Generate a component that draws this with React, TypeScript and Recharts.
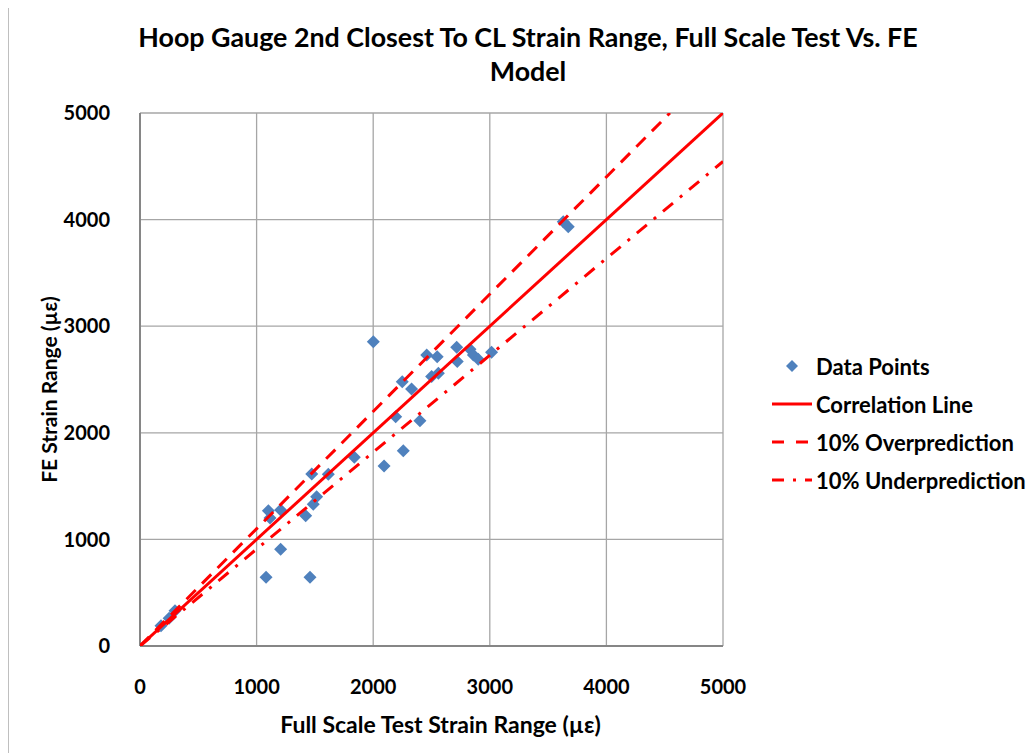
import {
  CartesianGrid,
  Scatter,
  ScatterChart,
  XAxis,
  YAxis,
} from "recharts";

const testStrain = [
  180, 250, 300, 1081, 1101, 1115, 1206, 1206, 1421, 1458, 1473, 1486, 1515,
  1615, 1838, 2001, 2093, 2193, 2249, 2258, 2329, 2401, 2459, 2501, 2549, 2559,
  2716, 2721, 2830, 2859, 2901, 3015, 3630, 3673,
];
const feStrain = [
  190, 260, 330, 645, 1269, 1200, 907, 1276, 1223, 645, 1614, 1330, 1401,
  1611, 1770, 2855, 1689, 2151, 2480, 1832, 2411, 2114, 2730, 2527, 2714, 2559,
  2802, 2668, 2783, 2730, 2689, 2755, 3980, 3933,
];

const correlationX = [0, 5000];
const correlationY = [0, 5000];
const overX = [0, 4545];
const overY = [0, 5000];
const underX = [0, 5000];
const underY = [0, 4545];

const ticks = [0, 1000, 2000, 3000, 4000, 5000];

const points = testStrain.map((x, i) => ({ x, y: feStrain[i] }));
const toPairs = (xs: number[], ys: number[]) =>
  xs.map((x, i) => ({ x, y: ys[i] }));

const FONT = "Lato, 'Open Sans', sans-serif";
const RED = "#ff0000";
const BLUE = "#4f81bd";

const Diamond = (props: any) => {
  const { cx, cy } = props;
  const r = 6.5;
  return (
    <polygon
      points={`${cx},${cy - r} ${cx + r},${cy} ${cx},${cy + r} ${cx - r},${cy}`}
      fill={BLUE}
    />
  );
};

const legendItems = [
  { label: "Data Points", kind: "marker" },
  { label: "Correlation Line", kind: "solid" },
  { label: "10% Overprediction", kind: "dash" },
  { label: "10% Underprediction", kind: "dashdot" },
];

const LegendBox = () => (
  <div
    style={{
      position: "absolute",
      left: 762,
      top: 339,
      fontFamily: FONT,
      fontWeight: 700,
      fontSize: 22,
      color: "#000",
      whiteSpace: "nowrap",
    }}
  >
    {legendItems.map((it) => (
      <div
        key={it.label}
        style={{ display: "flex", alignItems: "center", height: 38 }}
      >
        <svg width={44} height={20}>
          {it.kind === "marker" && (
            <polygon points="22,4 28,10 22,16 16,10" fill={BLUE} />
          )}
          {it.kind === "solid" && (
            <line x1={2} y1={10} x2={42} y2={10} stroke={RED} strokeWidth={3} />
          )}
          {it.kind === "dash" && (
            <line
              x1={2}
              y1={10}
              x2={42}
              y2={10}
              stroke={RED}
              strokeWidth={3}
              strokeDasharray="12 12"
            />
          )}
          {it.kind === "dashdot" && (
            <line
              x1={2}
              y1={10}
              x2={42}
              y2={10}
              stroke={RED}
              strokeWidth={3}
              strokeDasharray="12 9 3 9"
            />
          )}
        </svg>
        <span style={{ marginLeft: 2 }}>{it.label}</span>
      </div>
    ))}
  </div>
);

export default function App() {
  return (
    <div
      style={{
        position: "relative",
        width: 1026,
        height: 745,
        background: "#fff",
        fontFamily: FONT,
      }}
    >
      <div
        style={{
          position: "absolute",
          left: 0,
          top: -7,
          width: 1026,
          height: 752,
          borderLeft: "1px solid #bfbfbf",
          borderTop: "1px solid #bfbfbf",
          boxSizing: "border-box",
        }}
      />
      <div
        style={{
          position: "absolute",
          left: 0,
          top: 12,
          width: 1040,
          textAlign: "center",
          fontWeight: 700,
          fontSize: 26.8,
          lineHeight: "34px",
          color: "#000",
          whiteSpace: "nowrap",
        }}
      >
        Hoop Gauge 2nd Closest To CL Strain Range, Full Scale Test Vs. FE
        <br />
        Model
      </div>
      <ScatterChart
        width={1026}
        height={745}
        margin={{ top: 105, right: 311, bottom: 67, left: 52 }}
        style={{ position: "absolute", left: 0, top: 0 }}
      >
        <CartesianGrid stroke="#a6a6a6" strokeWidth={1.3} />
        <XAxis
          type="number"
          dataKey="x"
          domain={[0, 5000]}
          ticks={ticks}
          allowDataOverflow
          stroke="#868686"
          strokeWidth={2}
          tickLine={false}
          height={40}
          tick={{ fill: "#000", fontSize: 20, fontWeight: 700, fontFamily: FONT }}
          tickMargin={28}
          label={{
            value: "Full Scale Test Strain Range (\u00b5\u03b5)",
            position: "insideBottom",
            offset: -47,
            dx: 9,
            style: { fill: "#000", fontSize: 23, fontWeight: 700, fontFamily: FONT },
          }}
        />
        <YAxis
          type="number"
          dataKey="y"
          domain={[0, 5000]}
          ticks={ticks}
          allowDataOverflow
          stroke="#868686"
          strokeWidth={2}
          tickLine={false}
          width={80}
          tick={{ fill: "#000", fontSize: 20, fontWeight: 700, fontFamily: FONT }}
          tickMargin={24}
          label={{
            value: "FE Strain Range (\u00b5\u03b5)",
            angle: -90,
            position: "insideLeft",
            offset: -10,
            dy: 10,
            style: {
              fill: "#000",
              fontSize: 21,
              fontWeight: 700,
              fontFamily: FONT,
              textAnchor: "middle",
            },
          }}
        />
        <Scatter
          name="Data Points"
          data={points}
          shape={<Diamond />}
          isAnimationActive={false}
        />
        <Scatter
          name="Correlation Line"
          data={toPairs(correlationX, correlationY)}
          line={{ stroke: RED, strokeWidth: 3 }}
          shape={() => null}
          isAnimationActive={false}
        />
        <Scatter
          name="10% Overprediction"
          data={toPairs(overX, overY)}
          line={{ stroke: RED, strokeWidth: 3, strokeDasharray: "13 9" }}
          shape={() => null}
          isAnimationActive={false}
        />
        <Scatter
          name="10% Underprediction"
          data={toPairs(underX, underY)}
          line={{ stroke: RED, strokeWidth: 3, strokeDasharray: "13 9 3 9" }}
          shape={() => null}
          isAnimationActive={false}
        />
      </ScatterChart>
      <LegendBox />
    </div>
  );
}
